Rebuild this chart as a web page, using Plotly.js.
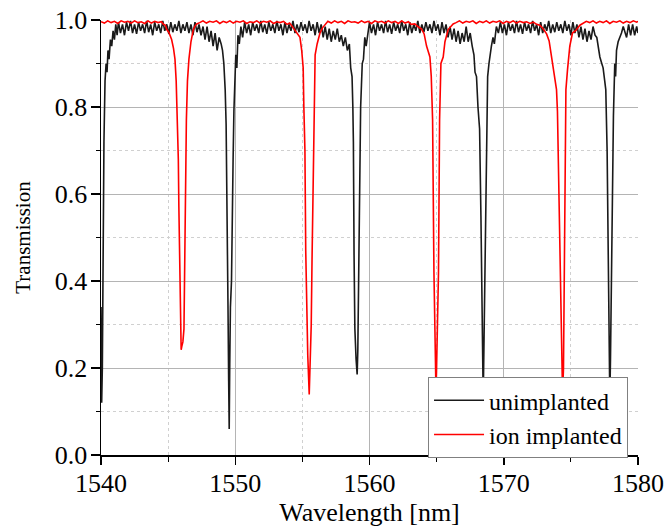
<!DOCTYPE html>
<html>
<head>
<meta charset="utf-8">
<script src="https://cdn.plot.ly/plotly-3.0.1.min.js"></script>
<style>html,body{margin:0;padding:0;background:#fff;}#chart{width:665px;height:529px;}</style>
</head>
<body>
<div id="chart"></div>
<script>
// Wavelength (nm) and transmission
const unimplantedWavelength = [
1540.00,1540.05,1540.10,1540.15,1540.22,1540.30,1540.38,1540.45,1540.52,1540.60,1540.70,1540.80,1540.90,1541.00,1541.10,1541.20,
1541.30,1541.45,1541.60,1541.75,1541.90,1542.05,1542.20,1542.35,1542.50,1542.65,1542.80,1542.95,1543.10,1543.25,1543.40,1543.55,1543.70,1543.85,
1544.00,1544.15,1544.30,1544.45,1544.60,1544.75,1544.90,1545.05,1545.20,1545.35,1545.50,1545.65,1545.80,1545.95,1546.10,1546.25,1546.40,1546.55,
1546.70,1546.85,1547.00,1547.15,1547.30,1547.45,1547.60,1547.75,1547.90,1548.05,1548.20,1548.35,1548.50,1548.65,1548.80,1548.95,
1549.05,1549.15,1549.25,1549.32,1549.40,1549.46,1549.51,1549.55,1549.59,1549.64,1549.72,1549.78,1549.84,1549.90,1549.97,1550.04,1550.12,1550.20,1550.30,1550.42,1550.55,
1550.70,1550.85,1551.00,1551.15,1551.30,1551.45,1551.60,1551.75,1551.90,1552.05,1552.20,1552.35,1552.50,1552.65,1552.80,1552.95,1553.10,1553.25,1553.40,1553.55,
1553.70,1553.85,1554.00,1554.15,1554.30,1554.45,1554.60,1554.75,1554.90,1555.05,1555.20,1555.35,1555.50,1555.65,1555.80,1555.95,1556.10,1556.25,1556.40,1556.55,
1556.70,1556.85,1557.00,1557.15,1557.30,1557.45,1557.60,1557.75,1557.90,
1558.05,1558.20,1558.35,1558.50,1558.60,1558.70,1558.76,1558.80,1558.85,1558.91,1559.00,1559.08,1559.13,1559.18,1559.23,1559.28,1559.34,1559.40,1559.46,1559.55,1559.65,1559.75,1559.88,1560.00,
1560.15,1560.30,1560.45,1560.60,1560.75,1560.90,1561.05,1561.20,1561.35,1561.50,1561.65,1561.80,1561.95,1562.10,1562.25,1562.40,1562.55,1562.70,1562.85,1563.00,
1563.15,1563.30,1563.45,1563.60,1563.75,1563.90,1564.05,1564.20,1564.35,1564.50,1564.65,1564.80,1564.95,1565.10,1565.25,1565.40,1565.55,1565.70,1565.85,1566.00,
1566.15,1566.30,1566.45,1566.60,1566.75,1566.90,1567.05,
1567.20,1567.35,1567.50,1567.65,1567.78,1567.86,1567.97,1568.08,1568.20,1568.30,1568.36,1568.42,1568.47,1568.52,1568.58,1568.65,1568.71,1568.80,1568.90,1568.96,1569.08,1569.20,1569.30,1569.45,
1569.60,1569.75,1569.90,1570.05,1570.20,1570.35,1570.50,1570.65,1570.80,1570.95,1571.10,1571.25,1571.40,1571.55,1571.70,1571.85,1572.00,1572.15,1572.30,1572.45,
1572.60,1572.75,1572.90,1573.05,1573.20,1573.35,1573.50,1573.65,1573.80,1573.95,1574.10,1574.25,1574.40,1574.55,1574.70,1574.85,1575.00,1575.15,1575.30,1575.45,
1575.60,1575.75,1575.90,1576.05,1576.20,1576.35,1576.50,
1576.65,1576.80,1576.93,1577.03,1577.16,1577.30,1577.40,1577.52,1577.60,1577.70,1577.78,1577.85,1577.90,1577.95,1578.02,1578.10,1578.17,1578.22,1578.27,1578.33,1578.40,1578.52,
1578.65,1578.77,1578.90,1579.02,1579.15,1579.30,1579.45,1579.60,1579.75,1579.90,1580.00
];
const unimplantedTransmission = [
0.34,0.12,0.20,0.43,0.72,0.86,0.90,0.88,0.93,0.91,0.955,0.94,0.975,0.955,0.99,0.965,
0.995,0.97,0.99,0.965,0.995,0.975,0.998,0.97,0.99,0.968,0.995,0.975,0.99,0.97,0.998,0.972,0.99,0.965,
0.995,0.975,0.99,0.97,0.998,0.975,0.99,0.968,0.995,0.972,0.99,0.975,0.998,0.97,0.99,0.975,0.995,0.97,
0.99,0.965,0.995,0.972,0.99,0.965,0.985,0.955,0.985,0.95,0.975,0.94,0.97,0.93,0.96,0.945,
0.93,0.90,0.84,0.76,0.58,0.34,0.17,0.06,0.21,0.34,0.40,0.60,0.68,0.79,0.87,0.92,0.89,0.965,0.945,0.985,0.96,
0.995,0.97,0.99,0.965,0.995,0.975,0.99,0.97,0.998,0.972,0.99,0.968,0.995,0.975,0.99,0.97,0.998,0.975,0.99,0.965,
0.995,0.97,0.99,0.975,0.998,0.97,0.99,0.972,0.995,0.975,0.99,0.97,0.998,0.975,0.99,0.965,0.995,0.97,0.99,0.96,
0.985,0.955,0.98,0.95,0.975,0.955,0.98,0.95,0.965,
0.94,0.96,0.93,0.945,0.89,0.87,0.80,0.72,0.46,0.29,0.22,0.185,0.24,0.36,0.54,0.70,0.80,0.85,0.90,0.91,0.96,0.94,0.975,0.995,
0.97,0.99,0.965,0.995,0.975,0.99,0.97,0.998,0.972,0.99,0.968,0.995,0.975,0.99,0.97,0.998,0.975,0.99,0.965,0.995,
0.97,0.99,0.975,0.998,0.97,0.99,0.972,0.995,0.975,0.99,0.97,0.998,0.975,0.99,0.965,0.995,0.97,0.99,0.96,0.985,
0.955,0.98,0.95,0.975,0.945,0.97,0.95,
0.985,0.95,0.97,0.94,0.92,0.88,0.87,0.80,0.75,0.55,0.40,0.25,0.13,0.24,0.40,0.60,0.76,0.87,0.90,0.915,0.94,0.96,0.945,0.985,
0.97,0.995,0.97,0.99,0.965,0.995,0.975,0.99,0.97,0.998,0.972,0.99,0.968,0.995,0.975,0.99,0.97,0.998,0.975,0.99,
0.965,0.995,0.97,0.99,0.975,0.998,0.97,0.99,0.972,0.995,0.975,0.99,0.97,0.998,0.975,0.99,0.965,0.995,0.97,0.99,
0.96,0.985,0.955,0.98,0.95,0.975,0.955,
0.985,0.965,0.96,0.94,0.915,0.90,0.89,0.86,0.84,0.70,0.45,0.25,0.13,0.22,0.45,0.65,0.78,0.84,0.90,0.87,0.93,0.95,
0.96,0.97,0.985,0.975,0.96,0.99,0.965,0.99,0.965,0.985,0.97
];
const implantedWavelength = [
1540.00,1540.25,1540.50,1540.75,1541.00,1541.25,1541.50,1541.75,1542.00,1542.25,1542.50,1542.75,1543.00,1543.25,1543.50,1543.75,1544.00,1544.25,1544.50,1544.65,
1544.80,1544.90,1545.05,1545.15,1545.26,1545.40,1545.51,1545.60,1545.68,1545.76,1545.80,1545.85,1545.89,1545.93,1545.97,1546.02,1546.10,1546.18,1546.23,1546.29,
1546.36,1546.44,1546.55,1546.70,1546.87,1547.00,1547.13,1547.35,1547.60,1547.85,1548.10,1548.35,1548.60,1548.85,1549.10,1549.35,1549.60,1549.85,1550.10,1550.35,
1550.60,1550.85,1551.10,1551.35,1551.60,1551.85,1552.10,1552.35,1552.60,1552.85,1553.10,1553.35,1553.60,1553.85,1554.05,1554.20,1554.32,1554.50,1554.70,1554.82,
1554.95,1555.06,1555.11,1555.19,1555.25,1555.32,1555.40,1555.51,1555.55,1555.60,1555.66,1555.72,1555.78,1555.84,1555.90,1555.95,1556.10,1556.31,1556.50,1556.68,
1556.90,1557.15,1557.40,1557.65,1557.90,1558.15,1558.40,1558.65,1558.90,1559.15,1559.40,1559.65,1559.90,1560.15,1560.40,1560.65,1560.90,1561.15,1561.40,1561.65,
1561.90,1562.15,1562.40,1562.65,1562.90,1563.10,1563.38,1563.60,1563.88,1564.07,1564.25,1564.50,1564.60,1564.65,1564.70,1564.80,1564.90,1564.95,1564.99,1565.14,
1565.22,1565.26,1565.32,1565.49,1565.62,1565.86,1566.05,1566.23,1566.45,1566.70,1566.95,1567.20,1567.45,1567.70,1567.95,1568.20,1568.45,1568.70,1568.95,1569.20,
1569.45,1569.70,1569.95,1570.20,1570.45,1570.70,1570.95,1571.20,1571.45,1571.70,1571.95,1572.20,1572.45,1572.69,1572.93,1573.19,1573.38,1573.56,1573.80,1573.93,
1574.00,1574.10,1574.20,1574.30,1574.38,1574.45,1574.52,1574.60,1574.63,1574.75,1574.92,1575.12,1575.37,1575.67,1575.90,1576.15,1576.40,1576.65,1576.90,1577.15,
1577.40,1577.65,1577.90,1578.15,1578.40,1578.65,1578.90,1579.15,1579.40,1579.65,1579.90,1580.00
];
const implantedTransmission = [
0.996,0.993,0.998,0.994,0.997,0.992,0.998,0.995,0.997,0.993,0.998,0.994,0.996,0.992,0.998,0.993,0.997,0.994,0.996,0.99,
0.988,0.978,0.972,0.962,0.955,0.935,0.91,0.86,0.79,0.68,0.57,0.45,0.38,0.28,0.242,0.25,0.26,0.29,0.45,0.61,
0.77,0.86,0.91,0.95,0.977,0.986,0.991,0.994,0.998,0.993,0.997,0.995,0.998,0.992,0.997,0.994,0.998,0.993,0.997,0.995,
0.998,0.992,0.996,0.994,0.998,0.993,0.997,0.995,0.998,0.992,0.996,0.994,0.997,0.99,0.993,0.987,0.982,0.974,0.966,0.96,
0.93,0.89,0.80,0.70,0.47,0.30,0.23,0.139,0.18,0.24,0.30,0.45,0.58,0.75,0.86,0.92,0.945,0.97,0.982,0.99,
0.997,0.993,0.998,0.994,0.997,0.992,0.998,0.995,0.996,0.993,0.998,0.994,0.997,0.992,0.998,0.995,0.997,0.993,0.998,0.994,
0.997,0.992,0.998,0.993,0.996,0.99,0.991,0.985,0.979,0.968,0.94,0.915,0.87,0.82,0.77,0.42,0.19,0.15,0.19,0.42,
0.77,0.84,0.90,0.915,0.95,0.978,0.986,0.991,0.994,0.998,0.993,0.997,0.995,0.998,0.992,0.997,0.994,0.998,0.993,0.997,
0.995,0.998,0.992,0.997,0.994,0.998,0.993,0.997,0.994,0.996,0.992,0.995,0.99,0.988,0.98,0.968,0.952,0.915,0.875,0.84,
0.79,0.60,0.40,0.22,0.14,0.20,0.42,0.70,0.84,0.886,0.94,0.97,0.976,0.988,0.993,0.997,0.994,0.998,0.993,0.997,
0.994,0.998,0.992,0.997,0.995,0.998,0.993,0.997,0.994,0.998,0.995,0.997
];
const seriesNames = ['unimplanted', 'ion implanted'];
const xTickValues = [1540, 1550, 1560, 1570, 1580];
const yTickValues = [0.0, 0.2, 0.4, 0.6, 0.8, 1.0];
const yTickLabels = ['0.0', '0.2', '0.4', '0.6', '0.8', '1.0'];

const serif = 'Liberation Serif, Times New Roman, serif';
const traces = [
  {x: unimplantedWavelength, y: unimplantedTransmission, name: seriesNames[0], type: 'scatter', mode: 'lines',
   line: {color: '#1a1a1a', width: 1.6}},
  {x: implantedWavelength, y: implantedTransmission, name: seriesNames[1], type: 'scatter', mode: 'lines',
   line: {color: '#ff0000', width: 1.6}}
];
const layout = {
  width: 665, height: 529,
  margin: {l: 101, r: 27, t: 20, b: 74},
  paper_bgcolor: '#ffffff', plot_bgcolor: '#ffffff',
  font: {family: serif, color: '#000', size: 22},
  xaxis: {
    range: [1540, 1580], tickvals: xTickValues, ticktext: xTickValues.map(String),
    showline: true, linecolor: '#000', linewidth: 1.5, mirror: false,
    ticks: 'outside', ticklen: 8, tickwidth: 1.5, tickcolor: '#000',
    showgrid: true, gridcolor: '#b4b4b4', gridwidth: 1, zeroline: false,
    tickfont: {family: serif, size: 26, color: '#000'}, ticklabelstandoff: -4,
    minor: {dtick: 5, ticks: 'outside', ticklen: 5, tickcolor: '#000', tickwidth: 1.2, showgrid: true, gridcolor: '#d0d0d0', griddash: 'dot', gridwidth: 1},
    title: {text: 'Wavelength [nm]', font: {family: serif, size: 26, color: '#000'}, standoff: 4}
  },
  yaxis: {
    range: [0, 1.0], tickvals: yTickValues, ticktext: yTickLabels,
    showline: true, linecolor: '#000', linewidth: 1.5, mirror: false,
    ticks: 'outside', ticklen: 9, tickwidth: 1.5, tickcolor: '#000',
    showgrid: true, gridcolor: '#b4b4b4', gridwidth: 1, zeroline: false,
    tickfont: {family: serif, size: 26, color: '#000'}, ticklabelstandoff: -2,
    minor: {dtick: 0.1, ticks: 'outside', ticklen: 4, tickcolor: '#000', tickwidth: 1.2, showgrid: true, gridcolor: '#d0d0d0', griddash: 'dot', gridwidth: 1},
    title: {text: 'Transmission', font: {family: serif, size: 21, color: '#000'}, standoff: 18}
  },
  showlegend: true,
  legend: {x: 0.609, y: 0.179, xanchor: 'left', yanchor: 'top', bgcolor: '#ffffff', bordercolor: '#808080', borderwidth: 1,
    font: {family: serif, size: 24, color: '#000'}, itemwidth: 50, tracegroupgap: 0}
};
Plotly.newPlot('chart', traces, layout, {displayModeBar: false, staticPlot: true});
</script>
</body>
</html>
